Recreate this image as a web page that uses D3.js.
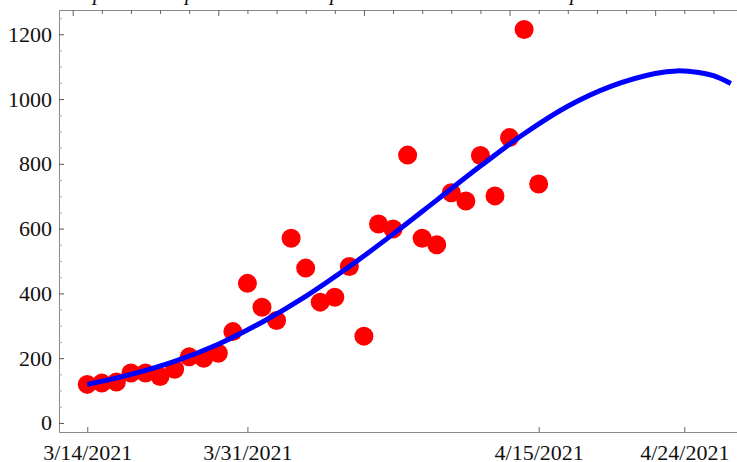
<!DOCTYPE html>
<html>
<head>
<meta charset="utf-8">
<script src="https://cdn.jsdelivr.net/npm/d3@7"></script>
<style>
  body { margin: 0; background: #fff; }
  svg { display: block; }
</style>
</head>
<body>
<div id="chart"></div>
<script>
// DATA
const days = [1, 2, 3, 4, 5, 6, 7, 8, 9, 10, 11, 12, 13, 14, 15, 16,
              17, 18, 19, 20, 21, 22, 23, 24, 25, 26, 27, 28, 29, 30, 31, 32]
const cases = [119, 123, 126, 154, 154, 143, 166, 204, 200, 215, 282, 431, 357, 316, 570, 478,
               373, 388, 483, 268, 614, 599, 827, 570, 550, 711, 685, 826, 701, 881, 1215, 738]

// fitted curve
const fitDays = [1, 4, 7, 10, 13, 16, 19, 22, 25, 28, 31, 34, 37, 40, 41.5, 43, 44, 45.2]
const fitValues = [119, 150, 190, 243, 311, 391, 483, 583, 688, 793, 893, 978, 1040, 1079, 1087, 1082, 1072, 1048]

// tick labels
const xTickDays = [1, 12, 32, 42]
const xTickLabels = ["3/14/2021", "3/31/2021", "4/15/2021", "4/24/2021"]
const yTicks = [0, 200, 400, 600, 800, 1000, 1200]

const width = 737
const height = 462
const font = "'Liberation Serif', 'Times New Roman', serif"

const svg = d3.select("#chart")
  .append("svg")
    .attr("width", width)
    .attr("height", height)

// SCALES
const xScale = d3.scaleLinear()
    .domain([-0.94, 46.1])
    .range([59, 744])

const yScale = d3.scaleLinear()
    .domain([-28, 1275])
    .range([432, 10])

// clipped title (only the descenders show at the top edge)
const titleGlyphX = [93, 185, 330, 570]
svg.selectAll(".title-glyph")
  .data(titleGlyphX)
  .join("text")
    .attr("class", "title-glyph")
    .attr("x", d => d)
    .attr("y", 0.3)
    .text("p")
    .attr("font-family", font)
    .attr("font-style", "italic")
    .attr("font-size", 22)
    .attr("fill", "#111")

// AXES
const axisColor = "#8a8a8a"

// left major
const yAxis = d3.axisLeft(yScale)
    .tickValues(yTicks)
    .tickFormat(d3.format("d"))
    .tickSizeInner(-5)
    .tickSizeOuter(0)
    .tickPadding(7)
const gy = svg.append("g")
    .attr("transform", `translate(${xScale.range()[0]},0)`)
    .call(yAxis)
gy.select(".domain").attr("stroke", axisColor)
gy.selectAll(".tick line").attr("stroke", "#555")
gy.selectAll("text")
    .attr("font-family", font)
    .attr("font-size", 22)
    .attr("fill", "#111")

// left minor
const yMinor = d3.range(0, 1251, 50).filter(v => v % 200 !== 0)
svg.append("g")
    .attr("transform", `translate(${xScale.range()[0]},0)`)
    .call(d3.axisLeft(yScale).tickValues(yMinor).tickSizeInner(-3).tickSizeOuter(0).tickFormat(""))
    .call(g => g.select(".domain").remove())
    .selectAll(".tick line").attr("stroke", "#aaa")

// bottom
const xAxis = d3.axisBottom(xScale)
    .tickValues(xTickDays)
    .tickFormat((d, i) => xTickLabels[i])
    .tickSizeInner(-5)
    .tickSizeOuter(0)
    .tickPadding(12)
const gx = svg.append("g")
    .attr("transform", `translate(0,${yScale.range()[0]})`)
    .call(xAxis)
gx.select(".domain").attr("stroke", axisColor)
gx.selectAll(".tick line").attr("stroke", "#666")
gx.selectAll("text")
    .attr("font-family", font)
    .attr("font-size", 22)
    .attr("fill", "#111")

// top frame, ticks every 2, longer every 10
const topTicks = d3.range(0, 47, 2)
const gt = svg.append("g")
    .attr("transform", `translate(0,${yScale.range()[1]})`)
    .call(d3.axisTop(xScale).tickValues(topTicks).tickSizeOuter(0).tickFormat(""))
gt.select(".domain").attr("stroke", axisColor)
gt.selectAll(".tick line")
    .attr("y2", d => d % 10 === 0 ? 6 : 4)
    .attr("stroke", "#666")

// POINTS
svg.append("g")
  .selectAll("circle")
  .data(days.map((d, i) => ({day: d, value: cases[i]})))
  .join("circle")
    .attr("cx", d => xScale(d.day))
    .attr("cy", d => yScale(d.value))
    .attr("r", 9.5)
    .attr("fill", "#ff0000")

// FIT LINE
const line = d3.line()
    .x(d => xScale(d.day))
    .y(d => yScale(d.value))
    .curve(d3.curveCatmullRom.alpha(0.5))

svg.append("path")
    .datum(fitDays.map((d, i) => ({day: d, value: fitValues[i]})))
    .attr("d", line)
    .attr("fill", "none")
    .attr("stroke", "#0000ff")
    .attr("stroke-width", 5)
</script>
</body>
</html>
